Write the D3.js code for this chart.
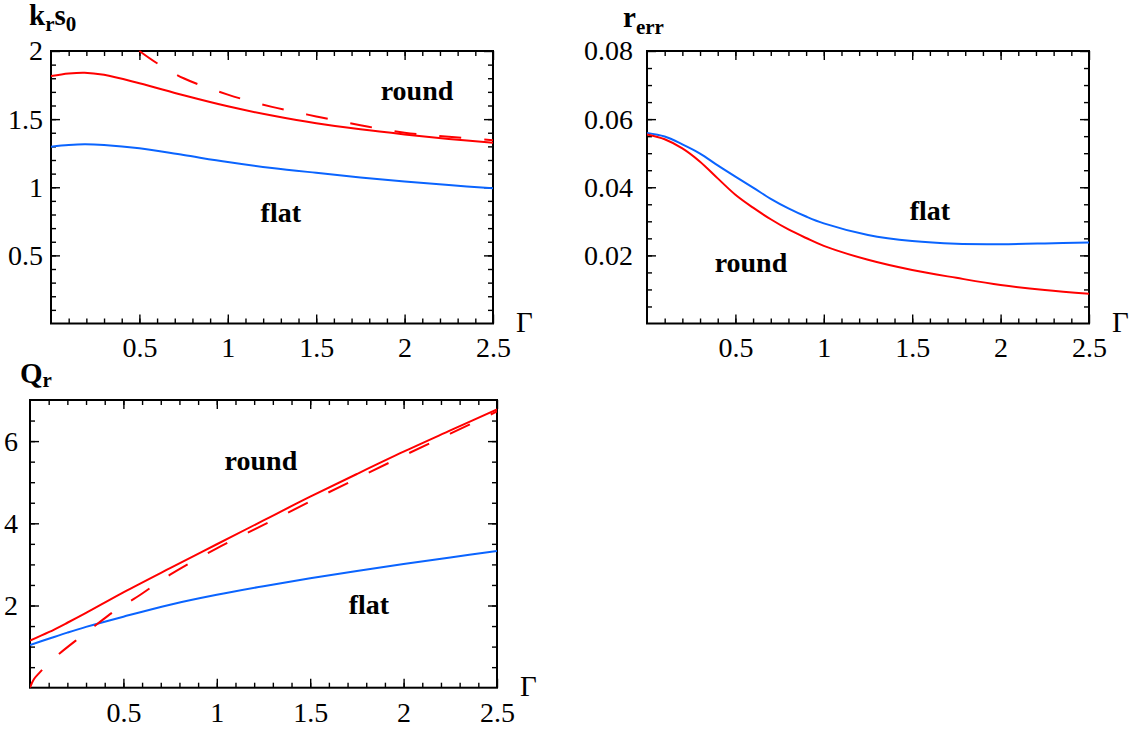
<!DOCTYPE html>
<html><head><meta charset="utf-8">
<script src="https://cdn.jsdelivr.net/npm/d3@7"></script>
<style>body{margin:0;background:#fff} svg{display:block}</style>
</head><body>
<svg id="chart" width="1132" height="730"></svg>
<script>
// ---------- Panel 1: k_r s_0 ----------
const krs0Gamma = [0, 0.1, 0.19, 0.3, 0.5, 0.75, 1.0, 1.25, 1.5, 1.75, 2.0, 2.25, 2.5];
const krs0Round = [1.816, 1.835, 1.841, 1.825, 1.763, 1.675, 1.594, 1.526, 1.469, 1.425, 1.388, 1.355, 1.327];
const krs0Flat  = [1.298, 1.310, 1.315, 1.310, 1.286, 1.236, 1.185, 1.142, 1.106, 1.072, 1.042, 1.016, 0.992];
const krs0AsymGamma = [0.5, 0.6, 0.75, 1.0, 1.25, 1.5, 1.75, 2.0, 2.25, 2.5];
const krs0Asym      = [2.0, 1.91, 1.80, 1.68, 1.59, 1.52, 1.455, 1.40, 1.37, 1.345];
const krs0YTicks = [0.5, 1, 1.5, 2];
const krs0YLabels = ["0.5", "1", "1.5", "2"];

// ---------- Panel 2: r_err ----------
const rerrGamma = [0, 0.1, 0.2, 0.3, 0.4, 0.5, 0.6, 0.7, 0.8, 0.9, 1.0, 1.25, 1.5, 1.75, 2.0, 2.25, 2.5];
const rerrFlat  = [0.05595, 0.0549, 0.0526, 0.0499, 0.0464, 0.0431, 0.0399, 0.0366, 0.0338, 0.0314, 0.0294, 0.0260, 0.0242, 0.0234, 0.0233, 0.0235, 0.0238];
const rerrRound = [0.0555, 0.0541, 0.0514, 0.0475, 0.0426, 0.0378, 0.0340, 0.0306, 0.0276, 0.0251, 0.0228, 0.0187, 0.0157, 0.0134, 0.0113, 0.0098, 0.0087];
const rerrYTicks = [0.02, 0.04, 0.06, 0.08];
const rerrYLabels = ["0.02", "0.04", "0.06", "0.08"];

// ---------- Panel 3: Q_r ----------
const qrGamma = [0, 0.1, 0.2, 0.3, 0.5, 0.75, 1.0, 1.25, 1.5, 1.75, 2.0, 2.25, 2.5];
const qrRound = [1.144, 1.35, 1.58, 1.82, 2.32, 2.91, 3.49, 4.07, 4.647, 5.20, 5.742, 6.26, 6.773];
const qrFlat  = [1.039, 1.19, 1.34, 1.48, 1.728, 2.02, 2.26, 2.47, 2.662, 2.84, 3.01, 3.17, 3.326];
const qrAsymGamma = [0, 0.02, 0.05, 0.1, 0.16, 0.26, 0.36, 0.46, 0.57, 0.75, 1.0, 1.25, 1.5, 1.75, 2.0, 2.25, 2.5];
const qrAsym      = [0, 0.2, 0.36, 0.6, 0.84, 1.2, 1.55, 1.89, 2.2, 2.75, 3.39, 3.96, 4.53, 5.09, 5.645, 6.18, 6.72];
const qrYTicks = [2, 4, 6];
const qrYLabels = ["2", "4", "6"];

// ---------- shared x axis ----------
const gammaTicks = [0.5, 1, 1.5, 2, 2.5];
const gammaLabels = ["0.5", "1", "1.5", "2", "2.5"];

const svg = d3.select('#chart');
const SERIF = "'Liberation Serif', 'Times New Roman', Times, serif";
const RED = '#ff0000', BLUE = '#0a64ff';
const DASH = '22,23';

function panel(cfg) {
  const x = d3.scaleLinear().domain([0, 2.5]).range([cfg.left, cfg.right]);
  const y = d3.scaleLinear().domain(cfg.yDomain).range([cfg.bottom, cfg.top]);
  const g = svg.append('g');
  const clipId = 'clip' + cfg.id;
  g.append('clipPath').attr('id', clipId).append('rect')
    .attr('x', cfg.left).attr('y', cfg.top - 1)
    .attr('width', cfg.right - cfg.left).attr('height', cfg.bottom - cfg.top + 1);

  const xMinor = d3.range(0.1, 2.5, 0.1);
  const yMinor = d3.range(cfg.yMinorStep, cfg.yDomain[1], cfg.yMinorStep);

  function styleAxis(sel) {
    sel.select('.domain').remove();
    sel.selectAll('.tick line').attr('stroke', '#000').attr('stroke-width', 1.4);
    sel.attr('font-family', SERIF).attr('font-size', 28);
    sel.selectAll('.tick text').attr('fill', '#000');
  }
  // bottom
  g.append('g').attr('transform', `translate(0,${cfg.bottom})`)
    .call(d3.axisBottom(x).tickValues(xMinor).tickSize(-5).tickFormat('')).call(styleAxis);
  g.append('g').attr('transform', `translate(0,${cfg.bottom})`)
    .call(d3.axisBottom(x).tickValues(gammaTicks).tickSize(-9).tickPadding(14)
      .tickFormat((d, i) => gammaLabels[i])).call(styleAxis);
  // top
  g.append('g').attr('transform', `translate(0,${cfg.top})`)
    .call(d3.axisTop(x).tickValues(xMinor).tickSize(-5).tickFormat('')).call(styleAxis);
  g.append('g').attr('transform', `translate(0,${cfg.top})`)
    .call(d3.axisTop(x).tickValues(gammaTicks).tickSize(-9).tickFormat('')).call(styleAxis);
  // left
  g.append('g').attr('transform', `translate(${cfg.left},0)`)
    .call(d3.axisLeft(y).tickValues(yMinor).tickSize(-5).tickFormat('')).call(styleAxis);
  g.append('g').attr('transform', `translate(${cfg.left},0)`)
    .call(d3.axisLeft(y).tickValues(cfg.yTicks).tickSize(-9).tickPadding(cfg.yPad)
      .tickFormat((d, i) => cfg.yLabels[i])).call(styleAxis);
  // right
  g.append('g').attr('transform', `translate(${cfg.right},0)`)
    .call(d3.axisRight(y).tickValues(yMinor).tickSize(-5).tickFormat('')).call(styleAxis);
  g.append('g').attr('transform', `translate(${cfg.right},0)`)
    .call(d3.axisRight(y).tickValues(cfg.yTicks).tickSize(-9).tickFormat('')).call(styleAxis);

  // frame
  g.append('rect').attr('x', cfg.left).attr('y', cfg.top)
    .attr('width', cfg.right - cfg.left).attr('height', cfg.bottom - cfg.top)
    .attr('fill', 'none').attr('stroke', '#000').attr('stroke-width', 2);

  // series
  cfg.series.forEach(s => {
    const line = d3.line().x((d, i) => x(s.x[i])).y(d => y(d)).curve(d3.curveCatmullRom.alpha(0.5));
    g.append('path').attr('d', line(s.y))
      .attr('fill', 'none').attr('stroke', s.color).attr('stroke-width', 2)
      .attr('stroke-dasharray', s.dash || null)
      .attr('clip-path', `url(#${clipId})`);
  });

  // annotations
  cfg.notes.forEach(n => {
    g.append('text').attr('x', x(n.gx)).attr('y', y(n.gy))
      .attr('text-anchor', 'middle').attr('font-family', SERIF)
      .attr('font-weight', 'bold').attr('font-size', 28).text(n.text);
  });

  // Gamma label
  g.append('text').attr('x', cfg.right + 23).attr('y', cfg.bottom + 8)
    .attr('font-family', SERIF).attr('font-size', 29).text('Γ');

  // y title
  const t = g.append('text').attr('x', cfg.titleX).attr('y', cfg.titleY)
    .attr('font-family', SERIF).attr('font-weight', 'bold').attr('font-size', 29);
  cfg.title.forEach(part => {
    t.append('tspan').attr('dy', part.dy).attr('font-size', part.sub ? 21 : 29).text(part.t);
  });
}

panel({
  id: 1, left: 51, right: 493, top: 51, bottom: 323.5,
  yDomain: [0, 2], yTicks: krs0YTicks, yLabels: krs0YLabels, yMinorStep: 0.1, yPad: 8,
  series: [
    { x: krs0Gamma, y: krs0Round, color: RED },
    { x: krs0AsymGamma, y: krs0Asym, color: RED, dash: DASH },
    { x: krs0Gamma, y: krs0Flat, color: BLUE }
  ],
  notes: [{ text: 'round', gx: 2.07, gy: 1.64 }, { text: 'flat', gx: 1.30, gy: 0.747 }],
  titleX: 29, titleY: 25,
  title: [{ t: 'k', dy: 0 }, { t: 'r', dy: 6, sub: true }, { t: 's', dy: -6 }, { t: '0', dy: 6, sub: true }]
});

panel({
  id: 2, left: 647, right: 1089, top: 51, bottom: 323.5,
  yDomain: [0, 0.08], yTicks: rerrYTicks, yLabels: rerrYLabels, yMinorStep: 0.005, yPad: 14,
  series: [
    { x: rerrGamma, y: rerrFlat, color: BLUE },
    { x: rerrGamma, y: rerrRound, color: RED }
  ],
  notes: [{ text: 'flat', gx: 1.60, gy: 0.0304 }, { text: 'round', gx: 0.588, gy: 0.0152 }],
  titleX: 623, titleY: 27,
  title: [{ t: 'r', dy: 0 }, { t: 'err', dy: 7, sub: true }]
});

panel({
  id: 3, left: 30, right: 497, top: 400, bottom: 687.7,
  yDomain: [0, 7], yTicks: qrYTicks, yLabels: qrYLabels, yMinorStep: 0.5, yPad: 12,
  series: [
    { x: qrGamma, y: qrFlat, color: BLUE },
    { x: qrAsymGamma, y: qrAsym, color: RED, dash: DASH },
    { x: qrGamma, y: qrRound, color: RED }
  ],
  notes: [{ text: 'round', gx: 1.236, gy: 5.30 }, { text: 'flat', gx: 1.814, gy: 1.786 }],
  titleX: 20, titleY: 383,
  title: [{ t: 'Q', dy: 0 }, { t: 'r', dy: 4, sub: true }]
});
</script>
</body></html>
